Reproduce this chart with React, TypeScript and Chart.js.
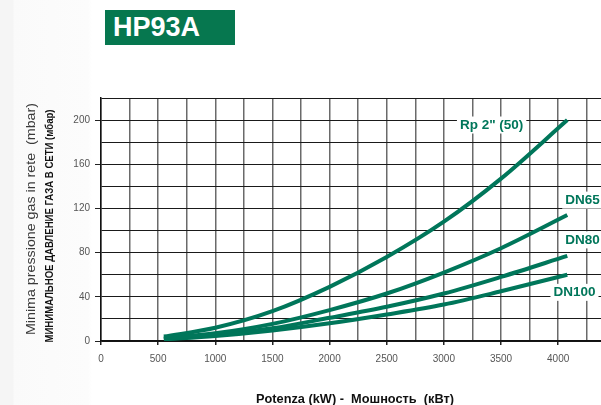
import React, { useEffect, useRef } from "react";
import { Chart, registerables } from "chart.js";

Chart.register(...registerables);

// ---- data ----
const powerKW = [550, 1000, 1500, 2000, 2500, 3000, 3500, 4080];
const rp2 = [4, 12, 27, 49, 76, 108, 147, 200];
const dn65 = [2.5, 7, 15.5, 28, 43, 62, 84, 114];
const dn80 = [2, 5.5, 11.5, 21, 31, 43, 58, 77];
const dn100 = [1.5, 4.5, 9.5, 16, 24, 33, 45, 60];
const seriesNames = ['Rp 2" (50)', "DN65", "DN80", "DN100"];
const xTickLabels = [0, 500, 1000, 1500, 2000, 2500, 3000, 3500, 4000];
const yTickLabels = [0, 40, 80, 120, 160, 200];

const chartTitle = "HP93A";
const yTitleIt = "Minima pressione gas in rete  (mbar)";
const yTitleRu = "МИНИМАЛЬНОЕ ДАВЛЕНИЕ ГАЗА В СЕТИ (мбар)";
const xTitle = "Potenza (kW) -  Мошность  (кВт)";

const GREEN = "#00765a";

// label anchors in data coordinates (layout)
const labelAnchors: [number, number][] = [
  [3418, 196],
  [4213, 128],
  [4213, 92],
  [4143, 44.5],
];

const annotate = {
  id: "annotate",
  afterDatasetsDraw(chart: any) {
    const ctx = chart.ctx;
    const xs = chart.scales.x;
    const ys = chart.scales.y;
    ctx.save();
    ctx.font = "bold 13.5px Arial, 'Liberation Sans', sans-serif";
    ctx.textAlign = "center";
    ctx.textBaseline = "middle";
    seriesNames.forEach((name, i) => {
      const px = xs.getPixelForValue(labelAnchors[i][0]);
      const py = ys.getPixelForValue(labelAnchors[i][1]);
      const w = ctx.measureText(name).width;
      ctx.fillStyle = "#ffffff";
      ctx.fillRect(px - w / 2 - 3, py - 8, w + 6, 17);
      ctx.fillStyle = GREEN;
      ctx.fillText(name, px, py + 0.5);
    });
    ctx.restore();
  },
  afterDraw(chart: any) {
    const ctx = chart.ctx;
    ctx.save();
    ctx.translate(31, 219);
    ctx.rotate(-Math.PI / 2);
    ctx.font = "13.5px Arial, 'Liberation Sans', sans-serif";
    const wi = ctx.measureText(yTitleIt).width;
    ctx.scale(232 / wi, 1);
    ctx.fillStyle = "#3a3a3a";
    ctx.textAlign = "center";
    ctx.textBaseline = "middle";
    ctx.fillText(yTitleIt, 0, 0);
    ctx.restore();

    ctx.save();
    ctx.translate(50, 226);
    ctx.rotate(-Math.PI / 2);
    ctx.font = "bold 10px 'Liberation Sans Narrow', Arial, sans-serif";
    const w = ctx.measureText(yTitleRu).width;
    ctx.scale(233 / w, 1);
    ctx.fillStyle = "#111";
    ctx.textAlign = "center";
    ctx.textBaseline = "middle";
    ctx.fillText(yTitleRu, 0, 0);
    ctx.restore();

    ctx.save();
    ctx.font = "bold 12px Arial, 'Liberation Sans', sans-serif";
    const wx = ctx.measureText(xTitle).width;
    ctx.translate(355, 400);
    ctx.scale(198 / wx, 1);
    ctx.fillStyle = "#111";
    ctx.textAlign = "center";
    ctx.textBaseline = "middle";
    ctx.fillText(xTitle, 0, 0);
    ctx.restore();
  },
};

export default function App() {
  const ref = useRef<HTMLCanvasElement | null>(null);

  useEffect(() => {
    if (!ref.current) return;
    const mk = (vals: number[]) => powerKW.map((x, i) => ({ x, y: vals[i] }));
    const chart = new Chart(ref.current, {
      type: "line",
      data: {
        datasets: [rp2, dn65, dn80, dn100].map((vals, i) => ({
          label: seriesNames[i],
          data: mk(vals),
          borderColor: GREEN,
          borderWidth: 4,
          pointRadius: 0,
          fill: false,
          cubicInterpolationMode: "monotone" as const,
        })),
      },
      options: {
        responsive: false,
        animation: false,
        events: [],
        layout: { padding: { top: 98, left: 0, right: 0, bottom: 0 } },
        plugins: {
          legend: { display: false },
          tooltip: { enabled: false },
          title: { display: false },
        },
        scales: {
          x: {
            type: "linear",
            min: 0,
            max: 4375,
            afterBuildTicks: (scale: any) => {
              const t = [];
              for (let v = 0; v <= 4250; v += 250) t.push({ value: v });
              scale.ticks = t;
            },
            afterFit: (scale: any) => {
              scale.height = 64;
            },
            ticks: {
              autoSkip: false,
              maxRotation: 0,
              padding: 8,
              color: "#555",
              font: { size: 10, family: "Arial, 'Liberation Sans', sans-serif" },
              callback: (v: any) =>
                xTickLabels.includes(Number(v)) ? String(v) : "",
            },
            grid: {
              color: "#6a6a6a",
              lineWidth: 1.5,
              tickLength: 4,
              tickColor: (c: any) =>
                c.tick && xTickLabels.includes(c.tick.value) ? "#222" : "rgba(0,0,0,0)",
            },
            border: { color: "#111", width: 1.5 },
          },
          y: {
            type: "linear",
            min: 0,
            max: 220,
            afterFit: (scale: any) => {
              scale.width = 101;
            },
            ticks: {
              stepSize: 20,
              padding: 5,
              color: "#555",
              font: { size: 10, family: "Arial, 'Liberation Sans', sans-serif" },
              callback: (v: any) =>
                yTickLabels.includes(Number(v)) ? String(v) : "",
            },
            grid: {
              color: "#1a1a1a",
              lineWidth: 1,
              tickLength: 6,
              tickColor: (c: any) =>
                c.tick && yTickLabels.includes(c.tick.value) ? "#222" : "rgba(0,0,0,0)",
            },
            border: { color: "#111", width: 1.5 },
          },
        },
      },
      plugins: [annotate],
    });
    return () => chart.destroy();
  }, []);

  return (
    <div
      style={{
        position: "fixed",
        left: 0,
        top: 0,
        width: 601,
        height: 405,
        overflow: "hidden",
        background:
          "linear-gradient(to right, #f5f5f5 0px, #f5f5f5 13px, #fafafa 14px, #fcfcfc 88px, #ffffff 92px)",
      }}
    >
      <div
        style={{
          position: "absolute",
          left: 105,
          top: 10,
          width: 130,
          height: 35,
          background: "#06774f",
          color: "#ffffff",
          fontFamily: "Arial, 'Liberation Sans', sans-serif",
          fontWeight: "bold",
          fontSize: 27,
          lineHeight: "35px",
          paddingLeft: 8,
          boxSizing: "border-box",
        }}
      >
        {chartTitle}
      </div>
      <canvas
        ref={ref}
        width={601}
        height={405}
        style={{ position: "absolute", left: 0, top: 0, display: "block" }}
      />
    </div>
  );
}
